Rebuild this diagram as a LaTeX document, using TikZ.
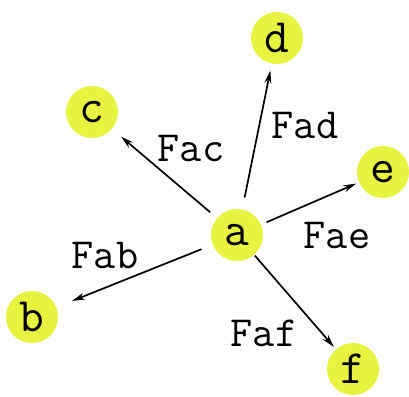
\documentclass[tikz,border=0pt]{standalone}
\usepackage{fontspec}
\usetikzlibrary{arrows.meta}
\definecolor{nodeyellow}{RGB}{232,242,64}
\tikzset{
  vtx/.style={circle,fill=nodeyellow,minimum size=52pt,inner sep=0pt,font=\ttfamily\fontsize{48}{48}\selectfont},
  force/.style={draw=black,line width=1.7pt,-{Stealth[length=13pt,width=7pt]}},
  flabel/.style={font=\ttfamily\fontsize{43}{43}\selectfont,inner sep=0pt}
}
\begin{document}
\begin{tikzpicture}[x=1pt,y=-1pt]
\useasboundingbox (0,0) rectangle (409,396);
\node[vtx] (a) at (237,235) {a};
\node[vtx] (b) at (32,317) {b};
\node[vtx] (c) at (92,112) {c};
\node[vtx] (d) at (277,38) {d};
\node[vtx] (e) at (383,172) {e};
\node[vtx] (f) at (353,369) {f};
\draw[force,shorten <=9pt,shorten >=12pt] (a) -- (c);
\draw[force,shorten <=12pt,shorten >=7pt] (a) -- (d);
\draw[force,shorten <=6pt,shorten >=3pt] (a) -- (e);
\draw[force,shorten <=12pt,shorten >=17pt] (a) -- (b);
\draw[force,shorten <=1pt,shorten >=3pt] (a) -- (f);
\node[flabel] (lac) at (191,148) {Fac};
\node[flabel] (lad) at (305,125) {Fad};
\node[flabel] (lae) at (337,235) {Fae};
\node[flabel] (lab) at (105,255) {Fab};
\node[flabel] (laf) at (264,333) {Faf};
\end{tikzpicture}
\end{document}
